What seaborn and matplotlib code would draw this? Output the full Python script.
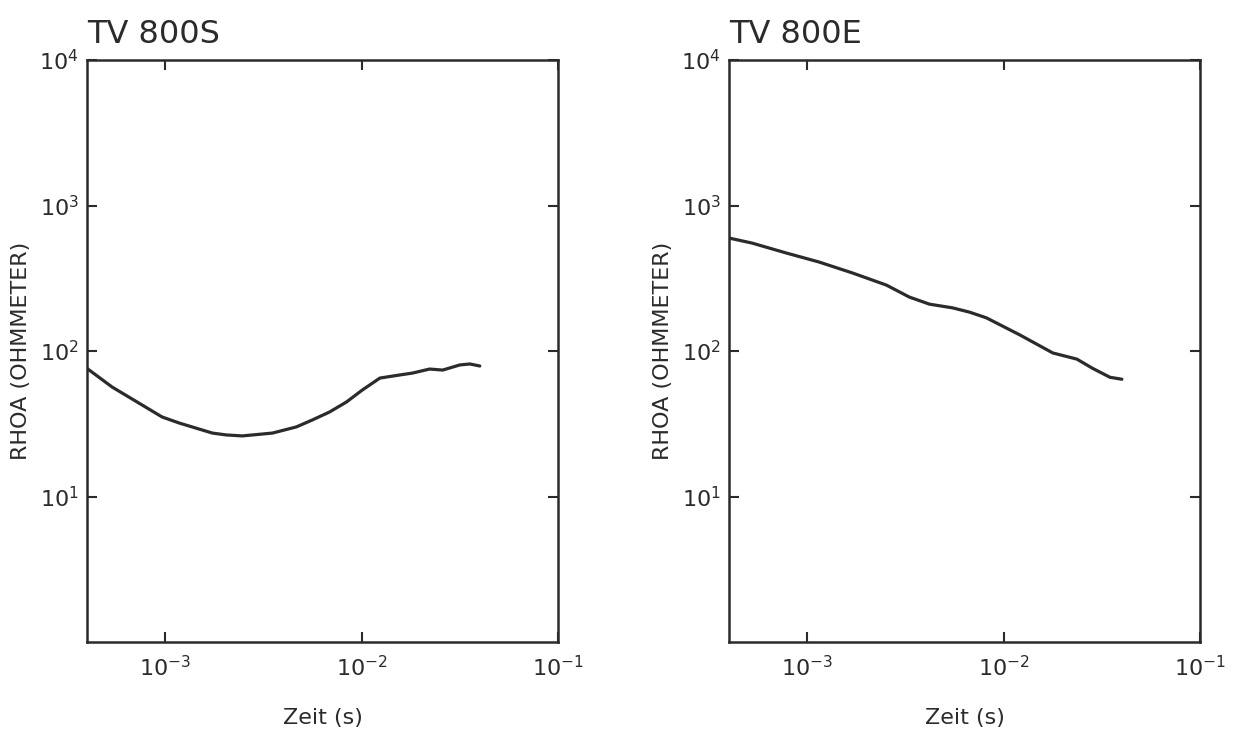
import numpy as np
import pandas as pd
import matplotlib
matplotlib.use("Agg")
import matplotlib.pyplot as plt
import seaborn as sns
from matplotlib.ticker import LogFormatterMathtext, NullLocator, FixedLocator

# ---- data ----
titles = ["TV 800S", "TV 800E"]

time_s = [4.0e-4, 5.37e-4, 8.0e-4, 9.66e-4, 1.18e-3, 1.74e-3, 2.05e-3, 2.47e-3, 3.52e-3,
          4.66e-3, 5.62e-3, 6.87e-3, 8.37e-3, 1.01e-2, 1.24e-2, 1.44e-2, 1.82e-2,
          2.22e-2, 2.59e-2, 3.16e-2, 3.56e-2, 4.0e-2]
rhoa_s = [76, 56.6, 41, 35.2, 32, 27.3, 26.5, 26.1, 27.3,
          30.1, 33.6, 38.1, 44.6, 54.0, 65.2, 67.3, 70.6,
          75.2, 74.0, 80.2, 81.5, 78.9]

time_e = [4.0e-4, 5.24e-4, 7.82e-4, 1.15e-3, 1.70e-3, 2.53e-3, 3.31e-3, 4.19e-3,
          5.50e-3, 6.71e-3, 8.18e-3, 1.21e-2, 1.78e-2, 2.36e-2, 2.84e-2, 3.48e-2, 4.0e-2]
rhoa_e = [598, 552, 472, 409, 344, 284, 235, 210,
          198, 185, 169, 129, 97, 88, 76, 66, 64]

x_ticks = [1e-3, 1e-2, 1e-1]
y_ticks = [1e1, 1e2, 1e3, 1e4]
x_label = "Zeit (s)"
y_label = "RHOA (OHMMETER)"

sns.set_theme(style="ticks")
plt.rcParams["font.family"] = ["DejaVu Sans"]

ink = "#2b2b2b"
fig = plt.figure(figsize=(12.35, 7.34), dpi=100)
ax_l = fig.add_axes([0.0704, 0.1253, 0.3814, 0.7929])
ax_r = fig.add_axes([0.5903, 0.1253, 0.3814, 0.7929])

for ax, title, t, r in [(ax_l, titles[0], time_s, rhoa_s), (ax_r, titles[1], time_e, rhoa_e)]:
    df = pd.DataFrame({"t": t, "rho": r})
    sns.lineplot(data=df, x="t", y="rho", ax=ax, color=ink, linewidth=2.3,
                 sort=False, estimator=None, solid_joinstyle="round",
                 solid_capstyle="round")
    ax.set_xscale("log")
    ax.set_yscale("log")
    ax.set_xlim(4.0e-4, 1e-1)
    ax.set_ylim(1, 1e4)
    ax.xaxis.set_major_locator(FixedLocator(x_ticks))
    ax.yaxis.set_major_locator(FixedLocator(y_ticks))
    ax.xaxis.set_minor_locator(NullLocator())
    ax.yaxis.set_minor_locator(NullLocator())
    ax.xaxis.set_major_formatter(LogFormatterMathtext())
    ax.yaxis.set_major_formatter(LogFormatterMathtext())
    ax.tick_params(axis="both", which="major", direction="in", length=7, width=1.5,
                   color=ink, labelcolor=ink, labelsize=16,
                   top=True, right=True)
    ax.tick_params(axis="x", pad=9)
    ax.tick_params(axis="y", pad=6)
    for sp in ax.spines.values():
        sp.set_visible(True)
        sp.set_color(ink)
        sp.set_linewidth(1.8)
    ax.set_xlabel(x_label, fontsize=16, color=ink, labelpad=20)
    ax.set_ylabel(y_label, fontsize=16, color=ink, labelpad=6)
    ax.set_title(title, loc="left", fontsize=23, color=ink, pad=12)

fig.savefig("out.png", dpi=100, facecolor="white")
